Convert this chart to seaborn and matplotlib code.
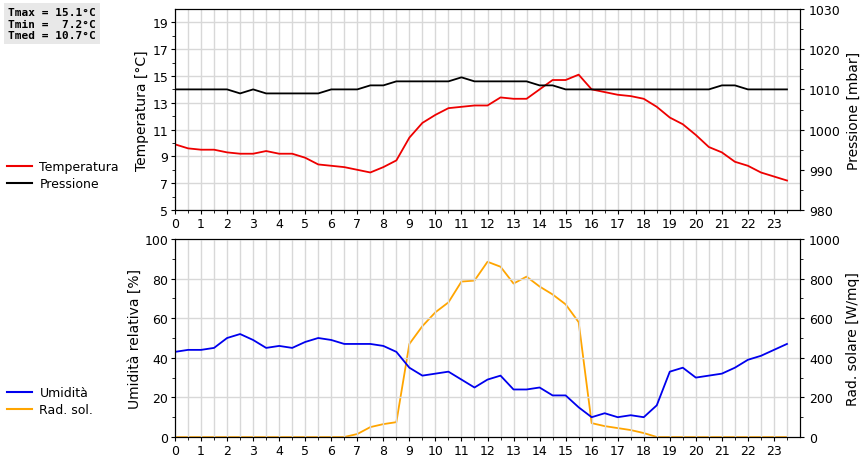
import numpy as np
import pandas as pd
import matplotlib
matplotlib.use("Agg")
import matplotlib.pyplot as plt
import seaborn as sns
from matplotlib.lines import Line2D

hours = [h * 0.5 for h in range(48)]
temperatura = [9.9, 9.6, 9.5, 9.5, 9.3, 9.2, 9.2, 9.4, 9.2, 9.2, 8.9, 8.4, 8.3, 8.2, 8.0, 7.8,
               8.2, 8.7, 10.4, 11.5, 12.1, 12.6, 12.7, 12.8, 12.8, 13.4, 13.3, 13.3, 14.0, 14.7, 14.7, 15.1,
               14.0, 13.8, 13.6, 13.5, 13.3, 12.7, 11.9, 11.4, 10.6, 9.7, 9.3, 8.6, 8.3, 7.8, 7.5, 7.2]
pressione = [1010, 1010, 1010, 1010, 1010, 1009, 1010, 1009, 1009, 1009, 1009, 1009, 1010, 1010, 1010, 1011,
             1011, 1012, 1012, 1012, 1012, 1012, 1013, 1012, 1012, 1012, 1012, 1012, 1011, 1011, 1010, 1010,
             1010, 1010, 1010, 1010, 1010, 1010, 1010, 1010, 1010, 1010, 1011, 1011, 1010, 1010, 1010, 1010]
umidita = [43, 44, 44, 45, 50, 52, 49, 45, 46, 45, 48, 50, 49, 47, 47, 47,
           46, 43, 35, 31, 32, 33, 29, 25, 29, 31, 24, 24, 25, 21, 21, 15,
           10, 12, 10, 11, 10, 16, 33, 35, 30, 31, 32, 35, 39, 41, 44, 47]
rad_sol = [0, 0, 0, 0, 0, 0, 0, 0, 0, 0, 0, 0, 0, 0, 15, 50,
           65, 75, 470, 560, 630, 680, 785, 790, 885, 860, 775, 810, 760, 720, 670, 580,
           70, 55, 45, 35, 20, 0, 0, 0, 0, 0, 0, 0, 0, 0, 0, 0]
stats_text = "Tmax = 15.1°C\nTmin =  7.2°C\nTmed = 10.7°C"

df = pd.DataFrame({"ora": hours, "T": temperatura, "P": pressione, "U": umidita, "R": rad_sol})

W, H = 860, 460
fig = plt.figure(figsize=(8.6, 4.6), dpi=100)
fs = 9

def ax_rect(l, t, r, b):
    return [l / W, 1 - b / H, (r - l) / W, (b - t) / H]

def style(ax):
    ax.set_xlim(0, 24)
    ax.set_xticks(range(24))
    ax.set_xticks(np.arange(0, 24, 0.5), minor=True)
    ax.grid(True, which="both", axis="x", color="#d8d8d8", lw=1)
    ax.grid(True, which="major", axis="y", color="#d8d8d8", lw=1)
    ax.set_axisbelow(True)
    ax.tick_params(labelsize=fs, length=3, direction="out", pad=2)
    ax.tick_params(which="minor", length=2)
    ax.set_xlabel("")

ax1 = fig.add_axes(ax_rect(175, 10, 800, 211))
sns.lineplot(data=df, x="ora", y="T", ax=ax1, color="#ee0000", lw=1.3)
ax1.set_ylim(5, 20)
ax1.set_yticks(range(5, 20, 2))
ax1.set_yticks(range(5, 20), minor=True)
style(ax1)
ax1.set_ylabel("Temperatura [°C]", fontsize=10, labelpad=2)
ax1b = ax1.twinx()
sns.lineplot(data=df, x="ora", y="P", ax=ax1b, color="black", lw=1.3)
ax1b.set_ylim(980, 1030)
ax1b.set_yticks(range(980, 1031, 10))
ax1b.set_yticks(range(980, 1031, 5), minor=True)
ax1b.tick_params(labelsize=fs, length=3)
ax1b.set_ylabel("Pressione [mbar]", fontsize=10)
ax1b.set_xlabel("")

ax2 = fig.add_axes(ax_rect(175, 240, 800, 438))
sns.lineplot(data=df, x="ora", y="U", ax=ax2, color="#0000ee", lw=1.3)
ax2.set_ylim(0, 100)
ax2.set_yticks(range(0, 101, 20))
ax2.set_yticks(range(0, 101, 10), minor=True)
style(ax2)
ax2.set_ylabel("Umidità relativa [%]", fontsize=10, labelpad=2)
ax2b = ax2.twinx()
sns.lineplot(data=df, x="ora", y="R", ax=ax2b, color="#ffa500", lw=1.3)
ax2b.set_ylim(0, 1000)
ax2b.set_yticks(range(0, 1001, 200))
ax2b.set_yticks(range(0, 1001, 100), minor=True)
ax2b.tick_params(labelsize=fs, length=3)
ax2b.set_ylabel("Rad. solare [W/mq]", fontsize=10)
ax2b.set_xlabel("")
ax2.set_zorder(ax2b.get_zorder() + 1)
ax2.patch.set_visible(False)

fig.legend(handles=[Line2D([], [], color="#ee0000", lw=1.5), Line2D([], [], color="black", lw=1.5)],
           labels=["Temperatura", "Pressione"], loc="upper left", bbox_to_anchor=(-0.005, 1 - 150 / H),
           frameon=False, fontsize=fs, handlelength=2.0, handletextpad=0.6, labelspacing=0.3)
fig.legend(handles=[Line2D([], [], color="#0000ee", lw=1.5), Line2D([], [], color="#ffa500", lw=1.5)],
           labels=["Umidità", "Rad. sol."], loc="upper left", bbox_to_anchor=(-0.005, 1 - 376 / H),
           frameon=False, fontsize=fs, handlelength=2.0, handletextpad=0.6, labelspacing=0.3)
fig.text(8 / W, 1 - 8 / H, stats_text, family="DejaVu Sans Mono", fontsize=8, fontweight="bold",
         va="top", ha="left", bbox=dict(facecolor="#e8e8e8", edgecolor="none", pad=3))

fig.savefig("out.png", dpi=100)
